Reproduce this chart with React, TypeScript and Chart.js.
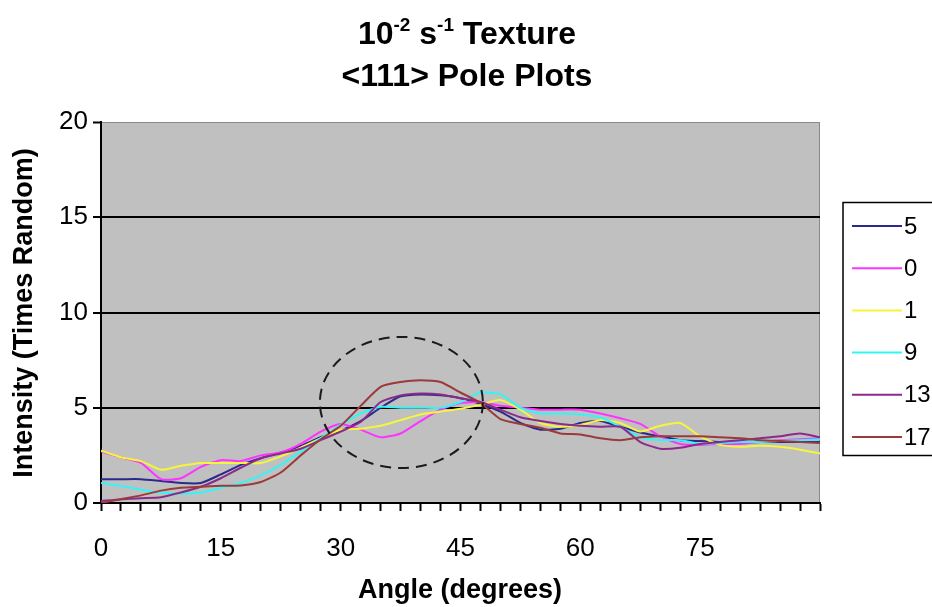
import React, { useEffect, useRef } from "react";
import { Chart, registerables } from "chart.js";

Chart.register(...registerables);

const ANGLES = [
  0, 2.5, 5, 7.5, 10, 12.5, 15, 17.5, 20, 22.5, 25, 27.5, 30, 32.5, 35, 37.5, 40, 42.5, 45, 47.5,
  50, 52.5, 55, 57.5, 60, 62.5, 65, 67.5, 70, 72.5, 75, 77.5, 80, 82.5, 85, 87.5, 90,
];

const SERIES_LABELS = ["5", "0", "1", "9", "13", "17"];
const SERIES_COLORS = ["#2a2a8c", "#ff33ff", "#f5f53c", "#33f5f5", "#8a2b8a", "#9b3a3a"];

const S5 = [
  1.25, 1.25, 1.25, 1.15, 1.05, 1.05, 1.5, 2.0, 2.35, 2.65, 3.0, 3.45, 3.8, 4.3, 5.0, 5.6, 5.7, 5.65, 5.5, 5.2,
  4.8, 4.2, 3.85, 3.9, 4.2, 4.3, 4.0, 3.7, 3.5, 3.3, 3.25, 3.2, 3.2, 3.2, 3.2, 3.2, 3.2,
];
const S0 = [
  2.7, 2.4, 2.1, 1.25, 1.3, 1.9, 2.25, 2.2, 2.5, 2.65, 3.1, 3.75, 4.15, 3.85, 3.45, 3.65, 4.3, 4.9, 5.25, 5.3,
  5.1, 5.0, 4.9, 4.9, 4.9, 4.7, 4.45, 4.15, 3.5, 3.1, 3.05, 3.1, 3.1, 3.2, 3.3, 3.35, 3.4,
];
const S1 = [
  2.75, 2.4, 2.2, 1.75, 1.95, 2.1, 2.1, 2.1, 2.1, 2.45, 2.9, 3.4, 3.85, 3.9, 4.05, 4.35, 4.65, 4.8, 4.95, 5.15,
  5.4, 4.9, 4.2, 4.0, 4.1, 4.35, 4.2, 3.75, 4.05, 4.2, 3.5, 3.05, 2.95, 3.0, 2.95, 2.8, 2.6,
];
const S9 = [
  1.05, 0.9, 0.7, 0.55, 0.5, 0.55, 0.8, 1.05, 1.45, 2.0, 2.7, 3.4, 4.1, 4.7, 5.05, 5.0, 5.0, 5.0, 5.3, 5.8,
  5.7, 5.0, 4.7, 4.7, 4.65, 4.5, 4.0, 3.45, 3.3, 3.3, 3.1, 3.15, 3.2, 3.2, 3.25, 3.3, 3.35,
];
const S13 = [
  0.1, 0.2, 0.25, 0.3, 0.55, 0.85, 1.3, 1.85, 2.35, 2.6, 2.85, 3.3, 3.75, 4.25, 5.3, 5.65, 5.75, 5.7, 5.5, 5.3,
  4.9, 4.5, 4.3, 4.15, 4.05, 4.0, 4.0, 3.2, 2.85, 2.9, 3.1, 3.2, 3.3, 3.4, 3.5, 3.65, 3.45,
];
const S17 = [
  0.0, 0.2, 0.4, 0.65, 0.8, 0.85, 0.9, 0.92, 1.1, 1.6, 2.5, 3.35, 4.05, 5.1, 6.1, 6.35, 6.45, 6.35, 5.8, 5.25,
  4.4, 4.15, 3.95, 3.65, 3.6, 3.4, 3.3, 3.45, 3.5, 3.5, 3.5, 3.45, 3.4, 3.3, 3.25, 3.2, 3.15,
];
const SERIES_VALUES = [S5, S0, S1, S9, S13, S17];

const X_LABELS = [0, 15, 30, 45, 60, 75];
const Y_TICKS = [0, 5, 10, 15, 20];

// dashed ellipse in data units: centre angle, centre intensity, half-width (deg), half-height (intensity)
const ELLIPSE = { cx: 37.6, cy: 5.28, rx: 10.2, ry: 3.44 };

const FONT = "'Liberation Sans', Arial, sans-serif";

const bgPlugin = {
  id: "bgPlugin",
  beforeDraw(chart: any) {
    const { ctx, chartArea: a } = chart;
    ctx.save();
    ctx.fillStyle = "#ffffff";
    ctx.fillRect(0, 0, chart.width, chart.height);
    ctx.fillStyle = "#c0c0c0";
    ctx.fillRect(a.left, a.top, a.right - a.left, a.bottom - a.top);
    ctx.strokeStyle = "#8a8a8a";
    ctx.lineWidth = 1;
    ctx.beginPath();
    ctx.moveTo(a.left, a.top + 0.5);
    ctx.lineTo(a.right - 0.5, a.top + 0.5);
    ctx.lineTo(a.right - 0.5, a.bottom);
    ctx.stroke();
    ctx.restore();
  },
};

const overlayPlugin = {
  id: "overlayPlugin",
  afterDraw(chart: any) {
    const { ctx } = chart;
    const xs = chart.scales.x;
    const ys = chart.scales.y;
    ctx.save();
    // ellipse
    const cx = xs.getPixelForValue(ELLIPSE.cx);
    const cy = ys.getPixelForValue(ELLIPSE.cy);
    const rx = Math.abs(xs.getPixelForValue(ELLIPSE.cx + ELLIPSE.rx) - cx);
    const ry = Math.abs(ys.getPixelForValue(ELLIPSE.cy + ELLIPSE.ry) - cy);
    ctx.strokeStyle = "#1a1a1a";
    ctx.lineWidth = 2;
    ctx.setLineDash([11, 7]);
    ctx.beginPath();
    ctx.ellipse(cx, cy, rx, ry, 0, 0, Math.PI * 2);
    ctx.stroke();
    ctx.setLineDash([]);

    // title
    ctx.fillStyle = "#000";
    ctx.textBaseline = "alphabetic";
    const big = `bold 32px ${FONT}`;
    const small = `bold 19px ${FONT}`;
    const parts: [string, boolean][] = [
      ["10", false],
      ["-2", true],
      [" s", false],
      ["-1", true],
      [" Texture", false],
    ];
    let total = 0;
    for (const [t, sup] of parts) {
      ctx.font = sup ? small : big;
      total += ctx.measureText(t).width;
    }
    let x = 467 - total / 2;
    for (const [t, sup] of parts) {
      ctx.font = sup ? small : big;
      ctx.textAlign = "left";
      ctx.fillText(t, x, sup ? 31 : 44);
      x += ctx.measureText(t).width;
    }
    ctx.font = big;
    ctx.textAlign = "center";
    ctx.fillText("<111> Pole Plots", 467, 86);

    // axis titles
    ctx.font = `bold 27px ${FONT}`;
    ctx.fillText("Angle (degrees)", 460, 598);
    ctx.save();
    ctx.translate(25, 313);
    ctx.rotate(-Math.PI / 2);
    ctx.textBaseline = "middle";
    ctx.fillText("Intensity (Times Random)", 0, 0);
    ctx.restore();

    // legend
    ctx.strokeStyle = "#000";
    ctx.lineWidth = 1.5;
    ctx.strokeRect(843, 202.5, 110, 253);
    ctx.font = `24px ${FONT}`;
    ctx.textAlign = "left";
    ctx.textBaseline = "middle";
    SERIES_LABELS.forEach((lab, i) => {
      const y = 226 + i * 42.2;
      ctx.strokeStyle = SERIES_COLORS[i];
      ctx.lineWidth = 2;
      ctx.beginPath();
      ctx.moveTo(852, y);
      ctx.lineTo(902, y);
      ctx.stroke();
      ctx.fillStyle = "#000";
      ctx.fillText(lab, 904, y + 1);
    });
    ctx.restore();
  },
};

export default function App() {
  const ref = useRef<HTMLCanvasElement | null>(null);
  useEffect(() => {
    if (!ref.current) return;
    const datasets = SERIES_LABELS.map((lab, i) => ({
      label: lab,
      data: ANGLES.map((a, j) => ({ x: a, y: SERIES_VALUES[i][j] })),
      borderColor: SERIES_COLORS[i],
      backgroundColor: SERIES_COLORS[i],
      borderWidth: 2,
      pointRadius: 0,
      tension: 0.2,
      fill: false,
      order: SERIES_LABELS.length - i,
    }));
    const chart = new Chart(ref.current, {
      type: "line",
      data: { datasets },
      plugins: [bgPlugin, overlayPlugin],
      options: {
        animation: false,
        responsive: false,
        devicePixelRatio: 1,
        layout: { padding: { top: 122, right: 112, left: 0, bottom: 0 } },
        plugins: { legend: { display: false }, title: { display: false }, tooltip: { enabled: false } },
        scales: {
          x: {
            type: "linear",
            min: 0,
            max: 90,
            afterFit: (s: any) => {
              s.height = 104;
            },
            ticks: {
              stepSize: 2.5,
              autoSkip: false,
              maxTicksLimit: 100,
              maxRotation: 0,
              minRotation: 0,
              padding: 22,
              color: "#000",
              font: { family: FONT, size: 26 },
              callback: (v: any) => (X_LABELS.includes(Number(v)) ? String(v) : ""),
            },
            grid: {
              drawOnChartArea: false,
              drawTicks: true,
              tickLength: 8,
              tickColor: "#000",
              tickWidth: 2,
            },
            border: { display: true, color: "#000", width: 2 },
          },
          y: {
            min: 0,
            max: 20,
            afterFit: (s: any) => {
              s.width = 101;
            },
            afterBuildTicks: (s: any) => {
              s.ticks = Y_TICKS.map((v) => ({ value: v }));
            },
            ticks: {
              padding: 5,
              color: "#000",
              font: { family: FONT, size: 26 },
            },
            grid: {
              color: (c: any) =>
                c.tick && c.tick.value === 0 ? "rgba(0,0,0,0)" : c.tick && c.tick.value === 20 ? "#8a8a8a" : "#000",
              lineWidth: (c: any) => (c.tick && c.tick.value === 20 ? 1 : 2),
              drawTicks: true,
              tickLength: 8,
              tickColor: "#000",
              tickWidth: 2,
            },
            border: { display: true, color: "#000", width: 2 },
          },
        },
      },
    } as any);
    return () => chart.destroy();
  }, []);
  return (
    <div style={{ position: "absolute", left: 0, top: 0, width: 932, height: 607 }}>
      <canvas ref={ref} width={932} height={607} />
    </div>
  );
}
